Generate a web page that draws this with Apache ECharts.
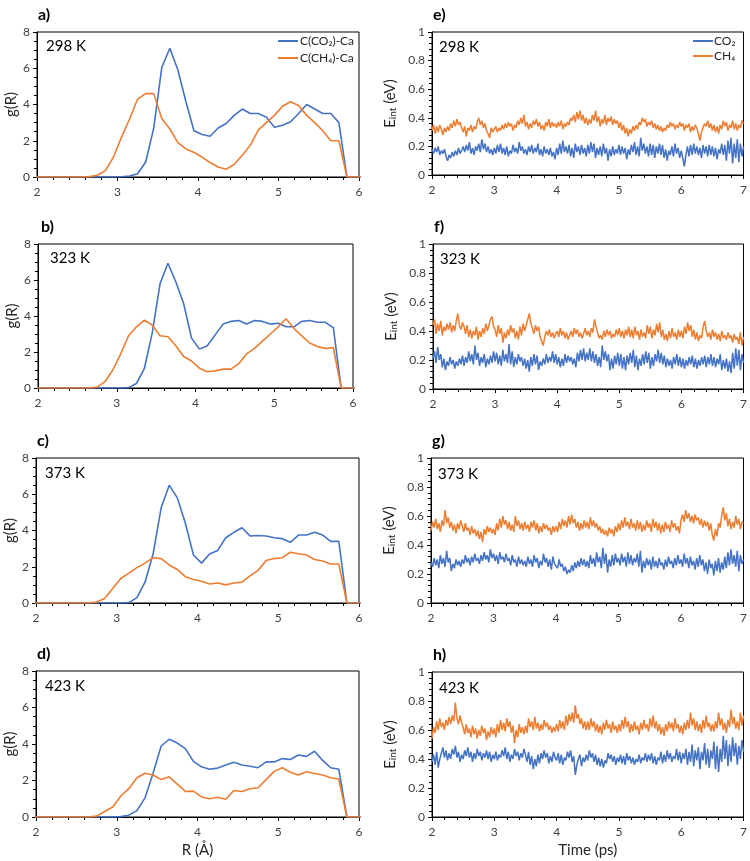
<!DOCTYPE html>
<html><head><meta charset="utf-8">
<script src="https://cdn.jsdelivr.net/npm/echarts@6/dist/echarts.min.js"></script>
<style>html,body{margin:0;padding:0;background:#fff}#c{width:750px;height:861px}</style>
</head><body><div id="c"></div>
<script>
// ---------- DATA ----------
const rValues = [1.95,2.05,2.15,2.25,2.35,2.45,2.55,2.65,2.75,2.85,2.95,3.05,3.15,3.25,3.35,3.45,3.55,3.65,3.75,3.85,3.95,4.05,4.15,4.25,4.35,4.45,4.55,4.65,4.75,4.85,4.95,5.05,5.15,5.25,5.35,5.45,5.55,5.65,5.75,5.85,5.95,6.05];

const gCO2_298 = [0,0,0,0,0,0,0,0,0,0,0, 0.01,0.05,0.18,0.83,2.7,6.04,7.1,5.9,4.15,2.55,2.35,2.25,2.7,2.95,3.4,3.75,3.5,3.5,3.3,2.75,2.85,3.05,3.5,4.0,3.75,3.5,3.5,3.0,0,0,0];
const gCH4_298 = [0,0,0,0,0,0,0, 0.02,0.1,0.35,1.1,2.2,3.2,4.3,4.6,4.6,3.23,2.65,1.9,1.55,1.35,1.1,0.8,0.55,0.43,0.7,1.2,1.75,2.6,3.0,3.4,3.9,4.15,3.95,3.4,3.0,2.55,2.0,2.0,0,0,0];
const gCO2_323 = [0,0,0,0,0,0,0,0,0,0,0,0, 0.02,0.25,1.07,3.05,5.8,6.93,5.9,4.68,2.77,2.16,2.35,2.95,3.55,3.7,3.75,3.55,3.75,3.7,3.55,3.6,3.4,3.4,3.7,3.75,3.65,3.65,3.35,0,0,0];
const gCH4_323 = [0,0,0,0,0,0,0,0, 0.05,0.35,1.0,1.9,2.9,3.4,3.77,3.5,2.9,2.85,2.35,1.75,1.5,1.1,0.9,0.95,1.05,1.05,1.35,1.9,2.2,2.6,3.0,3.4,3.85,3.3,2.9,2.5,2.3,2.2,2.25,0,0,0];
const gCO2_373 = [0,0,0,0,0,0,0,0,0,0,0,0, 0.02,0.3,1.15,2.7,5.25,6.5,5.8,4.4,2.65,2.2,2.7,2.9,3.6,3.9,4.15,3.7,3.72,3.7,3.6,3.55,3.35,3.75,3.75,3.9,3.75,3.4,3.4,0,0,0];
const gCH4_373 = [0,0,0,0,0,0,0,0, 0.05,0.25,0.8,1.35,1.65,1.95,2.2,2.5,2.45,2.1,1.85,1.45,1.3,1.2,1.05,1.1,1.0,1.1,1.15,1.5,1.8,2.35,2.45,2.5,2.8,2.72,2.65,2.4,2.32,2.15,2.15,0,0,0];
const gCO2_423 = [0,0,0,0,0,0,0,0,0,0,0, 0.02,0.1,0.35,1.05,2.4,3.89,4.26,4.05,3.75,3.05,2.75,2.62,2.68,2.85,3.0,2.85,2.78,2.7,3.02,3.02,3.2,3.15,3.4,3.32,3.6,3.1,2.7,2.62,0,0,0];
const gCH4_423 = [0,0,0,0,0,0,0,0, 0.05,0.3,0.55,1.15,1.55,2.15,2.4,2.3,2.05,2.2,1.8,1.4,1.42,1.1,1.0,1.08,0.97,1.45,1.4,1.55,1.6,2.05,2.5,2.7,2.45,2.3,2.48,2.38,2.3,2.15,2.08,0,0,0];

const timeStart = 2, timeStep = 0.025;   // sampling of the interaction-energy traces (ps)
const eCO2_298 = [
0.18,0.15,0.19,0.16,0.20,0.14,0.17,0.15,0.18,0.13,0.10,0.14,0.12,0.16,0.13,0.17,0.14,0.19,0.15,0.17,
0.20,0.16,0.21,0.17,0.23,0.15,0.19,0.14,0.20,0.17,0.22,0.16,0.25,0.18,0.22,0.16,0.20,0.15,0.18,0.14,
0.19,0.15,0.21,0.16,0.22,0.15,0.19,0.14,0.20,0.13,0.17,0.15,0.21,0.16,0.19,0.15,0.23,0.17,0.20,0.15,
0.18,0.14,0.20,0.16,0.21,0.15,0.19,0.16,0.22,0.14,0.18,0.13,0.20,0.15,0.18,0.14,0.19,0.13,0.16,0.11,
0.19,0.14,0.22,0.15,0.24,0.16,0.20,0.15,0.21,0.13,0.19,0.12,0.22,0.16,0.20,0.14,0.21,0.15,0.19,0.13,
0.21,0.15,0.23,0.16,0.22,0.12,0.19,0.14,0.20,0.13,0.22,0.15,0.19,0.10,0.18,0.13,0.20,0.14,0.18,0.15,
0.21,0.14,0.20,0.15,0.19,0.11,0.18,0.14,0.21,0.16,0.23,0.14,0.20,0.13,0.26,0.17,0.22,0.15,0.20,0.13,
0.22,0.14,0.21,0.12,0.20,0.15,0.22,0.14,0.21,0.12,0.18,0.10,0.17,0.14,0.20,0.13,0.22,0.15,0.19,0.12,
0.17,0.12,0.06,0.14,0.20,0.13,0.21,0.14,0.22,0.15,0.20,0.14,0.19,0.12,0.21,0.15,0.20,0.13,0.21,0.14,
0.20,0.13,0.19,0.11,0.18,0.15,0.22,0.14,0.21,0.10,0.24,0.15,0.26,0.08,0.22,0.12,0.25,0.09,0.22,0.13,
0.20];
const eCH4_298 = [
0.31,0.35,0.29,0.34,0.30,0.35,0.32,0.28,0.33,0.30,0.34,0.31,0.36,0.33,0.38,0.34,0.39,0.35,0.37,0.33,
0.30,0.34,0.27,0.33,0.31,0.35,0.30,0.34,0.32,0.37,0.40,0.35,0.38,0.33,0.36,0.31,0.29,0.26,0.33,0.30,
0.31,0.34,0.30,0.33,0.31,0.35,0.32,0.36,0.33,0.37,0.34,0.36,0.31,0.35,0.33,0.38,0.35,0.40,0.36,0.42,
0.34,0.37,0.32,0.36,0.33,0.38,0.35,0.39,0.34,0.37,0.32,0.35,0.31,0.37,0.34,0.39,0.33,0.37,0.34,0.36,
0.33,0.37,0.34,0.38,0.32,0.36,0.34,0.37,0.35,0.40,0.38,0.42,0.37,0.44,0.39,0.45,0.38,0.42,0.36,0.40,
0.35,0.39,0.36,0.42,0.38,0.45,0.37,0.41,0.34,0.39,0.36,0.42,0.35,0.40,0.37,0.41,0.35,0.39,0.36,0.38,
0.33,0.37,0.31,0.35,0.29,0.33,0.27,0.32,0.29,0.34,0.31,0.35,0.32,0.37,0.35,0.40,0.37,0.39,0.34,0.37,
0.35,0.38,0.33,0.36,0.32,0.35,0.31,0.34,0.30,0.33,0.31,0.35,0.33,0.37,0.34,0.36,0.32,0.35,0.33,0.37,
0.34,0.36,0.31,0.35,0.33,0.36,0.30,0.34,0.31,0.35,0.33,0.29,0.24,0.30,0.33,0.36,0.34,0.38,0.33,0.36,
0.31,0.35,0.30,0.34,0.29,0.35,0.32,0.38,0.34,0.37,0.31,0.35,0.33,0.38,0.32,0.36,0.31,0.35,0.33,0.38,
0.36];
const eCO2_323 = [
0.21,0.26,0.18,0.29,0.20,0.24,0.15,0.21,0.13,0.19,0.16,0.22,0.17,0.20,0.14,0.19,0.16,0.21,0.17,0.23,
0.16,0.22,0.18,0.26,0.19,0.24,0.17,0.30,0.20,0.25,0.16,0.22,0.18,0.24,0.15,0.21,0.17,0.23,0.18,0.26,
0.19,0.25,0.17,0.23,0.16,0.27,0.19,0.24,0.18,0.31,0.17,0.26,0.15,0.22,0.17,0.24,0.19,0.22,0.16,0.21,
0.14,0.20,0.12,0.22,0.16,0.24,0.17,0.23,0.13,0.19,0.16,0.21,0.17,0.24,0.18,0.22,0.19,0.26,0.18,0.24,
0.17,0.22,0.15,0.21,0.16,0.24,0.18,0.23,0.19,0.22,0.17,0.21,0.15,0.25,0.19,0.27,0.20,0.28,0.19,0.25,
0.20,0.28,0.19,0.26,0.18,0.24,0.16,0.22,0.15,0.30,0.20,0.26,0.19,0.24,0.13,0.21,0.14,0.23,0.17,0.25,
0.16,0.24,0.14,0.22,0.13,0.23,0.17,0.25,0.18,0.27,0.15,0.23,0.13,0.21,0.16,0.24,0.17,0.26,0.18,0.25,
0.14,0.22,0.16,0.24,0.19,0.27,0.18,0.25,0.17,0.23,0.15,0.21,0.16,0.20,0.14,0.22,0.17,0.24,0.16,0.22,
0.15,0.21,0.14,0.20,0.16,0.22,0.17,0.23,0.15,0.21,0.14,0.20,0.16,0.22,0.17,0.23,0.15,0.22,0.17,0.24,
0.16,0.22,0.15,0.21,0.17,0.24,0.13,0.20,0.14,0.21,0.12,0.19,0.11,0.25,0.14,0.28,0.16,0.27,0.13,0.24,
0.18];
const eCH4_323 = [
0.44,0.48,0.38,0.45,0.40,0.47,0.37,0.43,0.40,0.45,0.41,0.46,0.39,0.44,0.40,0.47,0.52,0.44,0.41,0.46,
0.43,0.38,0.44,0.36,0.41,0.35,0.40,0.37,0.43,0.34,0.40,0.36,0.42,0.38,0.45,0.40,0.44,0.48,0.50,0.43,
0.41,0.36,0.44,0.38,0.42,0.32,0.39,0.35,0.41,0.37,0.44,0.39,0.42,0.35,0.40,0.34,0.43,0.37,0.45,0.40,
0.44,0.48,0.52,0.45,0.42,0.38,0.44,0.40,0.43,0.36,0.33,0.30,0.36,0.40,0.37,0.41,0.36,0.39,0.35,0.38,
0.40,0.36,0.42,0.37,0.40,0.35,0.39,0.34,0.37,0.40,0.36,0.42,0.38,0.41,0.36,0.39,0.35,0.38,0.42,0.37,
0.40,0.36,0.42,0.39,0.48,0.43,0.39,0.35,0.37,0.34,0.40,0.36,0.41,0.37,0.40,0.35,0.38,0.36,0.41,0.37,
0.42,0.36,0.40,0.35,0.41,0.37,0.43,0.36,0.41,0.35,0.43,0.37,0.40,0.34,0.41,0.36,0.39,0.35,0.44,0.38,
0.43,0.35,0.41,0.37,0.45,0.39,0.46,0.36,0.41,0.34,0.38,0.33,0.40,0.35,0.42,0.36,0.39,0.34,0.41,0.36,
0.40,0.35,0.43,0.38,0.46,0.40,0.44,0.36,0.41,0.34,0.39,0.33,0.37,0.35,0.43,0.47,0.40,0.36,0.39,0.34,
0.41,0.36,0.39,0.34,0.38,0.33,0.40,0.35,0.37,0.34,0.39,0.35,0.37,0.32,0.38,0.34,0.36,0.31,0.39,0.30,
0.36];
const eCO2_373 = [
0.28,0.25,0.31,0.26,0.30,0.24,0.33,0.27,0.31,0.25,0.36,0.28,0.31,0.22,0.27,0.24,0.30,0.26,0.29,0.25,
0.30,0.27,0.33,0.28,0.31,0.26,0.32,0.28,0.34,0.29,0.31,0.27,0.33,0.29,0.35,0.30,0.33,0.28,0.37,0.31,
0.34,0.29,0.33,0.27,0.35,0.30,0.32,0.28,0.34,0.29,0.31,0.26,0.33,0.28,0.30,0.25,0.32,0.27,0.30,0.26,
0.29,0.25,0.32,0.27,0.30,0.25,0.33,0.28,0.31,0.24,0.29,0.26,0.34,0.28,0.31,0.25,0.30,0.23,0.32,0.27,
0.28,0.24,0.30,0.25,0.27,0.22,0.25,0.20,0.23,0.21,0.26,0.22,0.28,0.24,0.29,0.25,0.31,0.26,0.30,0.25,
0.29,0.24,0.33,0.27,0.31,0.25,0.35,0.28,0.32,0.24,0.38,0.27,0.34,0.21,0.30,0.25,0.33,0.26,0.34,0.28,
0.31,0.26,0.34,0.28,0.32,0.25,0.35,0.27,0.33,0.26,0.31,0.28,0.34,0.25,0.36,0.21,0.29,0.24,0.31,0.26,
0.30,0.23,0.32,0.25,0.29,0.24,0.31,0.26,0.28,0.23,0.30,0.25,0.32,0.27,0.29,0.24,0.31,0.26,0.33,0.27,
0.30,0.25,0.34,0.27,0.31,0.24,0.32,0.26,0.29,0.23,0.31,0.25,0.33,0.26,0.30,0.22,0.28,0.20,0.30,0.24,
0.27,0.19,0.29,0.22,0.31,0.21,0.28,0.23,0.32,0.24,0.35,0.26,0.37,0.27,0.33,0.25,0.36,0.22,0.33,0.27,
0.30];
const eCH4_373 = [
0.50,0.56,0.52,0.58,0.51,0.55,0.49,0.57,0.53,0.64,0.55,0.59,0.52,0.56,0.50,0.54,0.48,0.55,0.51,0.57,
0.53,0.49,0.55,0.50,0.52,0.47,0.53,0.48,0.51,0.46,0.50,0.44,0.49,0.42,0.51,0.47,0.53,0.49,0.52,0.48,
0.51,0.47,0.55,0.50,0.58,0.52,0.60,0.54,0.57,0.51,0.56,0.50,0.54,0.49,0.60,0.53,0.57,0.51,0.55,0.50,
0.56,0.51,0.54,0.49,0.56,0.52,0.57,0.50,0.55,0.48,0.53,0.49,0.55,0.51,0.54,0.50,0.52,0.47,0.53,0.49,
0.53,0.49,0.56,0.51,0.58,0.53,0.57,0.52,0.60,0.54,0.61,0.55,0.58,0.52,0.56,0.50,0.55,0.51,0.57,0.52,
0.56,0.51,0.59,0.53,0.57,0.52,0.55,0.50,0.53,0.48,0.51,0.47,0.50,0.46,0.52,0.48,0.51,0.46,0.53,0.49,
0.55,0.50,0.57,0.52,0.59,0.53,0.56,0.51,0.58,0.52,0.55,0.50,0.57,0.51,0.56,0.49,0.54,0.50,0.57,0.52,
0.55,0.49,0.58,0.52,0.56,0.50,0.55,0.48,0.54,0.49,0.56,0.51,0.54,0.49,0.57,0.52,0.55,0.50,0.53,0.48,
0.57,0.61,0.56,0.64,0.58,0.62,0.56,0.60,0.55,0.61,0.57,0.59,0.54,0.58,0.52,0.57,0.53,0.56,0.50,0.55,
0.47,0.43,0.51,0.46,0.55,0.52,0.60,0.66,0.57,0.62,0.53,0.58,0.51,0.56,0.52,0.60,0.54,0.58,0.51,0.56,
0.55];
const eCO2_423 = [
0.38,0.43,0.36,0.45,0.34,0.40,0.44,0.48,0.41,0.46,0.39,0.44,0.40,0.47,0.43,0.49,0.41,0.45,0.38,0.43,
0.40,0.46,0.42,0.48,0.41,0.45,0.38,0.44,0.40,0.47,0.42,0.45,0.39,0.44,0.41,0.46,0.40,0.45,0.38,0.43,
0.40,0.45,0.39,0.43,0.41,0.46,0.42,0.48,0.40,0.45,0.38,0.43,0.40,0.47,0.42,0.45,0.39,0.44,0.41,0.47,
0.43,0.38,0.45,0.36,0.42,0.33,0.40,0.35,0.43,0.37,0.44,0.40,0.46,0.41,0.44,0.37,0.42,0.38,0.45,0.41,
0.39,0.44,0.37,0.43,0.36,0.41,0.39,0.45,0.41,0.46,0.38,0.42,0.29,0.36,0.40,0.43,0.35,0.41,0.38,0.43,
0.39,0.46,0.41,0.44,0.38,0.43,0.36,0.41,0.35,0.40,0.34,0.39,0.37,0.44,0.40,0.43,0.38,0.42,0.36,0.41,
0.38,0.43,0.37,0.42,0.36,0.44,0.39,0.42,0.37,0.41,0.36,0.40,0.38,0.43,0.37,0.41,0.39,0.44,0.38,0.43,
0.39,0.44,0.37,0.42,0.36,0.41,0.39,0.45,0.37,0.43,0.38,0.46,0.40,0.44,0.38,0.42,0.40,0.47,0.39,0.45,
0.37,0.44,0.40,0.47,0.36,0.45,0.38,0.50,0.35,0.46,0.39,0.48,0.33,0.45,0.39,0.51,0.36,0.47,0.34,0.46,
0.40,0.52,0.33,0.49,0.31,0.47,0.38,0.56,0.40,0.53,0.35,0.50,0.38,0.55,0.42,0.51,0.36,0.49,0.40,0.53,
0.45];
const eCH4_423 = [
0.54,0.62,0.58,0.66,0.60,0.68,0.62,0.65,0.60,0.67,0.63,0.69,0.64,0.70,0.66,0.79,0.68,0.64,0.70,0.65,
0.62,0.57,0.64,0.58,0.61,0.55,0.63,0.57,0.61,0.54,0.60,0.56,0.63,0.58,0.61,0.53,0.59,0.55,0.62,0.57,
0.61,0.55,0.64,0.58,0.67,0.60,0.65,0.59,0.68,0.62,0.66,0.58,0.63,0.51,0.60,0.55,0.64,0.58,0.62,0.57,
0.63,0.58,0.68,0.62,0.66,0.60,0.69,0.61,0.65,0.59,0.64,0.60,0.67,0.62,0.65,0.60,0.63,0.58,0.62,0.59,
0.64,0.59,0.67,0.61,0.66,0.60,0.70,0.63,0.71,0.66,0.72,0.65,0.77,0.68,0.71,0.64,0.68,0.61,0.66,0.60,
0.66,0.60,0.68,0.62,0.66,0.59,0.64,0.58,0.63,0.57,0.65,0.60,0.67,0.61,0.64,0.58,0.66,0.60,0.63,0.58,
0.64,0.59,0.67,0.61,0.69,0.62,0.66,0.58,0.64,0.59,0.66,0.60,0.63,0.57,0.65,0.60,0.67,0.61,0.64,0.59,
0.68,0.62,0.70,0.61,0.66,0.59,0.64,0.57,0.62,0.56,0.64,0.59,0.66,0.61,0.65,0.59,0.68,0.61,0.64,0.58,
0.63,0.57,0.65,0.60,0.67,0.61,0.72,0.63,0.68,0.60,0.66,0.59,0.64,0.58,0.67,0.61,0.70,0.62,0.65,0.59,
0.64,0.59,0.66,0.61,0.72,0.63,0.68,0.60,0.65,0.58,0.67,0.62,0.74,0.64,0.69,0.61,0.66,0.60,0.72,0.63,
0.70];

const rTicks = [2,3,4,5,6];
const gTicks = [0,2,4,6,8];
const timeTicks = [2,3,4,5,6,7];
const eTicks = [0,0.2,0.4,0.6,0.8,1];
const temperatures = ['298 K','323 K','373 K','423 K'];
const leftLetters = ['a)','b)','c)','d)'];
const rightLetters = ['e)','f)','g)','h)'];
const rdfNames = ['C(CO\u2082)-Ca','C(CH\u2084)-Ca'];
const eNames = ['CO\u2082','CH\u2084'];

// ---------- LAYOUT ----------
const FONT = 'Lato, "Open Sans", sans-serif';
const BLUE = '#4472C4', ORANGE = '#ED7D31';
const leftGrids = [
  {left:37, top:32, width:322, height:145},
  {left:38, top:244, width:315, height:144},
  {left:36, top:458, width:323, height:145},
  {left:36, top:671, width:323, height:146}
];
const rightGrids = [
  {left:432, top:32, width:314, height:143},
  {left:433, top:244, width:314, height:145},
  {left:431, top:458, width:314, height:145},
  {left:432, top:672, width:313, height:145}
];
const rdfSets = [[gCO2_298,gCH4_298],[gCO2_323,gCH4_323],[gCO2_373,gCH4_373],[gCO2_423,gCH4_423]];
const eSets = [[eCO2_298,eCH4_298],[eCO2_323,eCH4_323],[eCO2_373,eCH4_373],[eCO2_423,eCH4_423]];

const grids = [], xAxes = [], yAxes = [], series = [], graphics = [];
const axisCommon = {
  axisLine:{show:true, onZero:false, lineStyle:{color:'#000', width:1}},
  axisTick:{show:true, inside:false, length:4, lineStyle:{color:'#000'}},
  splitLine:{show:false},
  axisLabel:{color:'#404040', fontSize:12, fontFamily:FONT}
};
function addPanel(g, xt, yt, xMinor, yMinor, xName, yName, yNameGap, yFmt) {
  const gi = grids.length;
  grids.push(Object.assign({show:true, borderColor:'#000', borderWidth:1, backgroundColor:'transparent'}, g));
  xAxes.push(Object.assign({}, axisCommon, {
    type:'value', gridIndex:gi, min:xt[0], max:xt[xt.length-1], interval:xt[1]-xt[0],
    minorTick:{show:true, splitNumber:xMinor, length:3, lineStyle:{color:'#000'}},
    axisLabel:Object.assign({}, axisCommon.axisLabel, {margin:9}),
    name:xName, nameLocation:'middle', nameGap:26,
    nameTextStyle:{color:'#262626', fontSize:15, fontFamily:FONT}
  }));
  yAxes.push(Object.assign({}, axisCommon, {
    type:'value', gridIndex:gi, min:yt[0], max:yt[yt.length-1], interval:yt[1]-yt[0],
    minorTick:{show:true, splitNumber:yMinor, length:3, lineStyle:{color:'#000'}},
    axisLabel:Object.assign({}, axisCommon.axisLabel, {margin:7, formatter:yFmt}),
    name:yName, nameLocation:'middle', nameGap:yNameGap,
    nameTextStyle:{color:'#262626', fontSize:15, fontFamily:FONT,
      rich:{m:{fontSize:15, fontFamily:FONT, color:'#262626'}, s:{fontSize:10, fontFamily:FONT, color:'#262626', verticalAlign:'bottom'}}}
  }));
  return gi;
}

for (let i = 0; i < 4; i++) {
  const gi = addPanel(leftGrids[i], rTicks, gTicks, 5, 4, i === 3 ? 'R (\u00C5)' : '', 'g(R)', 18, v => String(v));
  rdfSets[i].forEach((arr, k) => {
    series.push({type:'line', name:rdfNames[k], xAxisIndex:gi, yAxisIndex:gi, symbol:'none', clip:true,
      lineStyle:{color:k ? ORANGE : BLUE, width:1.6}, itemStyle:{color:k ? ORANGE : BLUE},
      data: arr.map((v, j) => [rValues[j], v])});
  });
  const g = leftGrids[i];
  graphics.push({type:'text', left:g.left + (i===1?3:1), top:g.top - 25, style:{text:leftLetters[i], font:'bold 16px ' + FONT, fill:'#000'}});
  graphics.push({type:'text', left:g.left + 9 + (i===1?3:0), top:g.top + 7 + (i>1?1:0), style:{text:temperatures[i], font:'15px ' + FONT, fill:'#000'}});
}
for (let i = 0; i < 4; i++) {
  const gi = addPanel(rightGrids[i], timeTicks, eTicks, 5, 5, i === 3 ? 'Time (ps)' : '', '{m|E}{s|int}{m| (eV)}', 34, v => String(+v.toFixed(1)));
  eSets[i].forEach((arr, k) => {
    series.push({type:'line', name:eNames[k], xAxisIndex:gi, yAxisIndex:gi, symbol:'none', clip:true,
      lineStyle:{color:k ? ORANGE : BLUE, width:1.5}, itemStyle:{color:k ? ORANGE : BLUE},
      data: arr.map((v, j) => [+(timeStart + j * timeStep).toFixed(4), v])});
  });
  const g = rightGrids[i];
  graphics.push({type:'text', left:g.left + 1, top:g.top - 25, style:{text:rightLetters[i], font:'bold 16px ' + FONT, fill:'#000'}});
  graphics.push({type:'text', left:g.left + 7, top:g.top + 8 + (i>1?1:0), style:{text:temperatures[i], font:'15px ' + FONT, fill:'#000'}});
}

const chart = echarts.init(document.getElementById('c'), null, {renderer:'canvas'});
chart.setOption({
  animation:false,
  backgroundColor:'#fff',
  textStyle:{fontFamily:FONT},
  grid:grids, xAxis:xAxes, yAxis:yAxes, series:series,
  legend:[
    {data:rdfNames.map(n => ({name:n, icon:'rect'})), orient:'vertical', left:278, top:35, padding:0,
     itemWidth:20, itemHeight:2, itemGap:5, selectedMode:false,
     textStyle:{fontSize:12, color:'#262626', fontFamily:FONT, padding:[0,0,0,-3]}},
    {data:eNames.map(n => ({name:n, icon:'rect'})), orient:'vertical', left:693, top:35, padding:0,
     itemWidth:20, itemHeight:2, itemGap:3, selectedMode:false,
     textStyle:{fontSize:12, color:'#262626', fontFamily:FONT, padding:[0,0,0,-4]}}
  ],
  graphic:graphics
});
</script></body></html>
